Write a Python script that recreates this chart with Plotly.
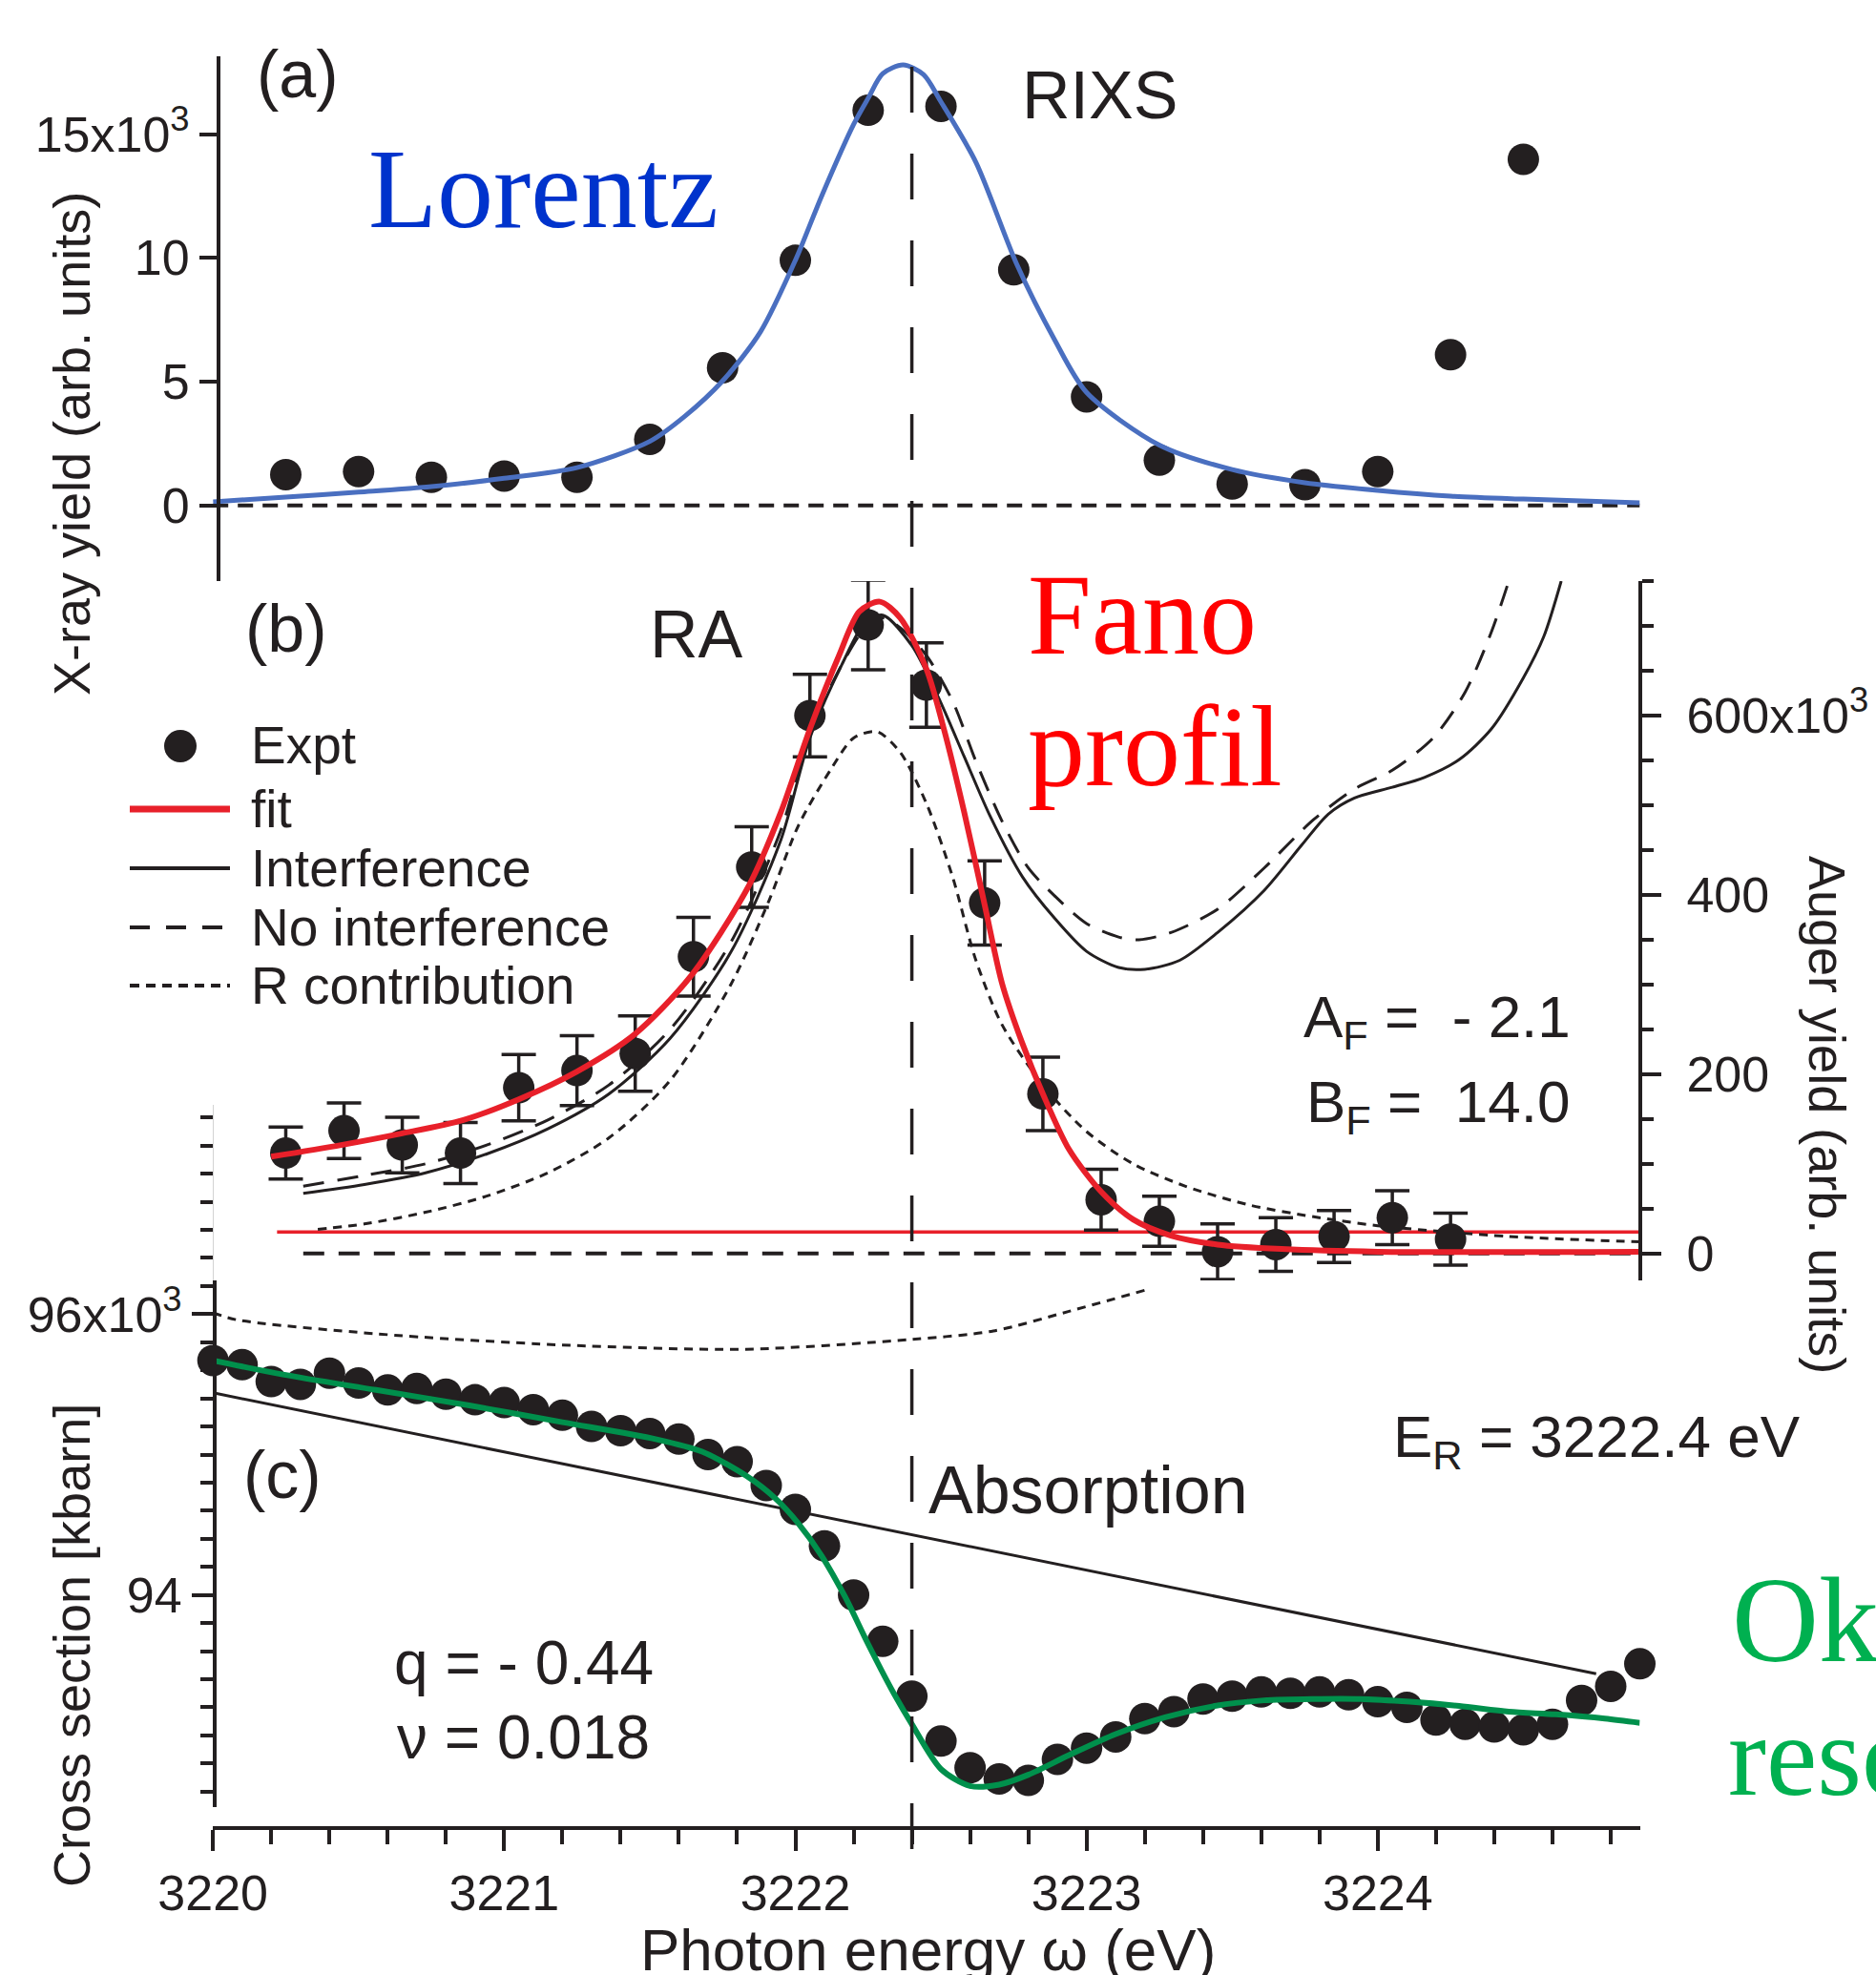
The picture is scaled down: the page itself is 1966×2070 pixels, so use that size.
import plotly.graph_objects as go

W, H = 1966, 2070
SANS = "Liberation Sans, Arial, sans-serif"
SERIF = "Liberation Serif, Times New Roman, serif"
INK = "#231f20"

def px(x):
    return x / W

def py(y):
    return 1 - y / H

E_R = 3222.4

# ---------------- panel (a): RIXS ----------------
a_expt_x = [3220.25, 3220.5, 3220.75, 3221.0, 3221.25, 3221.5, 3221.75, 3222.0, 3222.25,
            3222.5, 3222.75, 3223.0, 3223.25, 3223.5, 3223.75, 3224.0, 3224.25, 3224.5]
a_expt_y = [1.25, 1.37, 1.14, 1.19, 1.14, 2.67, 5.56, 9.90, 15.96,
            16.12, 9.52, 4.39, 1.83, 0.87, 0.84, 1.37, 6.09, 13.98]
a_fit_x = [3220.0, 3220.25, 3220.5, 3220.75, 3221.0, 3221.25, 3221.5, 3221.62, 3221.75, 3221.88,
           3222.0, 3222.09, 3222.2, 3222.25, 3222.3, 3222.37, 3222.44, 3222.5, 3222.62, 3222.76,
           3222.89, 3223.0, 3223.25, 3223.5, 3223.75, 3224.0, 3224.25, 3224.5, 3224.9]
a_fit_y = [0.15, 0.34, 0.54, 0.76, 1.10, 1.53, 2.59, 3.6, 5.03, 7.01,
           9.90, 12.49, 15.39, 16.45, 17.44, 17.79, 17.4, 16.30, 13.86, 9.75,
           6.70, 4.57, 2.44, 1.45, 0.92, 0.61, 0.38, 0.26, 0.11]
a_zero_x = [3220.0, 3224.9]
a_zero_y = [0, 0]

# ---------------- panel (b): RA (Auger yield, x10^3) ----------------
b_expt_x = [3220.25, 3220.45, 3220.65, 3220.85, 3221.05, 3221.25, 3221.45, 3221.65, 3221.85, 3222.05,
            3222.25, 3222.45, 3222.65, 3222.85, 3223.05, 3223.25, 3223.45, 3223.65, 3223.85, 3224.05,
            3224.25]
b_expt_y = [112, 137, 121, 112, 185, 204, 223, 331, 431, 600,
            701, 634, 391, 178, 60, 36, 2, 10, 19, 40, 16]
b_expt_err = [29, 31, 31, 34, 37, 39, 42, 44, 45, 46,
              50, 47, 47, 41, 34, 28, 31, 30, 29, 30, 29]

b_fit_x = [3220.2, 3220.44, 3220.65, 3220.86, 3221.05, 3221.25, 3221.45, 3221.64, 3221.84, 3221.95,
           3222.05, 3222.15, 3222.22, 3222.29, 3222.36, 3222.45, 3222.51, 3222.58, 3222.65, 3222.71,
           3222.78, 3222.85, 3222.94, 3223.05, 3223.16, 3223.29, 3223.45, 3223.67, 3224.0, 3224.9]
b_fit_y = [108, 121, 134, 149, 172, 203, 245, 309, 410, 492,
           585, 667, 716, 727, 709, 652, 585, 492, 389, 301,
           234, 178, 116, 69, 38, 20, 10, 5, 2, 2]

b_int_x = [3220.31, 3220.52, 3220.73, 3220.94, 3221.15, 3221.36, 3221.57, 3221.78, 3221.95, 3222.05,
           3222.16, 3222.24, 3222.3, 3222.4, 3222.49, 3222.58, 3222.67, 3222.78, 3222.89, 3223.0,
           3223.11, 3223.2, 3223.32, 3223.45, 3223.61, 3223.74, 3223.83, 3223.92, 3224.05, 3224.16,
           3224.28, 3224.39, 3224.5, 3224.57, 3224.63]
b_int_y = [67, 77, 90, 111, 139, 178, 240, 337, 461, 575,
           657, 704, 712, 678, 621, 554, 487, 420, 374, 337,
           319, 317, 327, 358, 405, 456, 490, 508, 520, 531,
           551, 585, 642, 688, 750]

b_noint_x = [3220.31, 3220.52, 3220.73, 3220.94, 3221.15, 3221.36, 3221.57, 3221.78, 3221.95, 3222.05,
             3222.16, 3222.24, 3222.3, 3222.36, 3222.45, 3222.54, 3222.62, 3222.71, 3222.8, 3222.89,
             3223.0, 3223.11, 3223.18, 3223.29, 3223.45, 3223.61, 3223.78, 3223.92, 3224.05, 3224.19,
             3224.3, 3224.39, 3224.45]
b_noint_y = [75, 87, 100, 121, 149, 188, 250, 348, 472, 580,
             657, 698, 709, 698, 667, 616, 549, 482, 430, 399,
             368, 353, 350, 358, 384, 430, 484, 518, 539, 575,
             626, 693, 750]

b_r_x = [3220.36, 3220.52, 3220.73, 3220.94, 3221.15, 3221.36, 3221.57, 3221.78, 3221.91, 3222.01,
         3222.12, 3222.2, 3222.28, 3222.36, 3222.45, 3222.54, 3222.62, 3222.71, 3222.85, 3223.0,
         3223.16, 3223.34, 3223.56, 3223.78, 3224.0, 3224.45, 3224.9]
b_r_y = [27, 33, 46, 64, 90, 129, 193, 301, 394, 477,
         539, 575, 582, 559, 502, 420, 327, 255, 188, 136,
         100, 75, 54, 41, 31, 19, 13]

b_base_x = [3220.22, 3224.9]
b_base_y = [24, 24]
b_zero_x = [3220.31, 3224.9]
b_zero_y = [0, 0]

# ---------------- panel (c): Absorption (kbarn, x10^3) ----------------
c_expt_x = [3220.0, 3220.1, 3220.2, 3220.3, 3220.4, 3220.5, 3220.6, 3220.7, 3220.8, 3220.9,
            3221.0, 3221.1, 3221.2, 3221.3, 3221.4, 3221.5, 3221.6, 3221.7, 3221.8, 3221.9,
            3222.0, 3222.1, 3222.2, 3222.3, 3222.4, 3222.5, 3222.6, 3222.7, 3222.8, 3222.9,
            3223.0, 3223.1, 3223.2, 3223.3, 3223.4, 3223.5, 3223.6, 3223.7, 3223.8, 3223.9,
            3224.0, 3224.1, 3224.2, 3224.3, 3224.4, 3224.5, 3224.6, 3224.7, 3224.8, 3224.9]
c_expt_y = [95.67, 95.64, 95.52, 95.50, 95.58, 95.51, 95.46, 95.47, 95.43, 95.39,
            95.37, 95.32, 95.28, 95.20, 95.17, 95.15, 95.11, 95.00, 94.95, 94.78,
            94.61, 94.35, 94.00, 93.67, 93.28, 92.96, 92.77, 92.69, 92.68, 92.83,
            92.91, 92.99, 93.12, 93.17, 93.26, 93.28, 93.31, 93.30, 93.31, 93.29,
            93.24, 93.20, 93.11, 93.08, 93.06, 93.04, 93.08, 93.25, 93.35, 93.51]

c_fit_x = [3220.0, 3220.24, 3220.56, 3220.88, 3221.2, 3221.52, 3221.68, 3221.83, 3221.93, 3222.01,
           3222.09, 3222.17, 3222.25, 3222.33, 3222.4, 3222.5, 3222.6, 3222.7, 3222.8, 3222.94,
           3223.1, 3223.27, 3223.44, 3223.61, 3223.78, 3223.94, 3224.11, 3224.28, 3224.45, 3224.61,
           3224.78, 3224.9]
c_fit_y = [95.67, 95.57, 95.46, 95.35, 95.23, 95.11, 95.02, 94.85, 94.69, 94.51,
           94.28, 93.99, 93.65, 93.33, 93.08, 92.76, 92.64, 92.65, 92.72, 92.86,
           93.01, 93.13, 93.21, 93.25, 93.26, 93.26, 93.24, 93.21, 93.17, 93.15,
           93.12, 93.09]

c_bg_x = [3220.0, 3224.75]
c_bg_y = [95.44, 93.44]

c_dot_x = [3220.0, 3220.08, 3220.56, 3221.2, 3221.83, 3222.4, 3222.68, 3222.94, 3223.2]
c_dot_y = [96.01, 95.96, 95.86, 95.78, 95.75, 95.82, 95.88, 96.02, 96.17]

# ---------------- figure ----------------
fig = go.Figure()

def line(x, y, yaxis, color, width, dash="solid", spline=True):
    fig.add_trace(go.Scatter(
        x=x, y=y, mode="lines", xaxis="x", yaxis=yaxis, showlegend=False, hoverinfo="skip",
        line=dict(color=color, width=width, dash=dash,
                  shape="spline" if spline else "linear", smoothing=0.8)))

def dots(x, y, yaxis, err=None):
    kw = {}
    if err is not None:
        kw["error_y"] = dict(type="data", array=err, visible=True, color=INK, thickness=3.5, width=18)
    fig.add_trace(go.Scatter(
        x=x, y=y, mode="markers", xaxis="x", yaxis=yaxis, showlegend=False, cliponaxis=False,
        marker=dict(size=33, color=INK, line=dict(width=0)), **kw))

# (a)
line(a_zero_x, a_zero_y, "y3", INK, 4, "16px,10px", spline=False)
dots(a_expt_x, a_expt_y, "y3")
line(a_fit_x, a_fit_y, "y3", "#4a6fc0", 5)

# (b)
line(b_base_x, b_base_y, "y2", "#e8202a", 3.5, spline=False)
line(b_zero_x, b_zero_y, "y2", INK, 4, "22px,15px", spline=False)
line(b_r_x, b_r_y, "y2", INK, 3, "9px,7px")
line(b_noint_x, b_noint_y, "y2", INK, 3, "22px,14px")
line(b_int_x, b_int_y, "y2", INK, 3)
dots(b_expt_x, b_expt_y, "y2", b_expt_err)
line(b_fit_x, b_fit_y, "y2", "#e8202a", 6)

# (c)
line(c_dot_x, c_dot_y, "y", INK, 3, "9px,7px")
line(c_bg_x, c_bg_y, "y", INK, 3, spline=False)
dots(c_expt_x, c_expt_y, "y")
line(c_fit_x, c_fit_y, "y", "#00904c", 6)

axis_common = dict(showline=True, linewidth=4, linecolor=INK, ticks="outside", tickwidth=4,
                   tickcolor=INK, showgrid=False, zeroline=False, automargin=False,
                   tickfont=dict(family=SANS, size=52, color=INK))

fig.update_layout(
    width=W, height=H, margin=dict(l=0, r=0, t=0, b=0, pad=0, autoexpand=False),
    autosize=False,
    paper_bgcolor="white", plot_bgcolor="white", showlegend=False,
    font=dict(family=SANS, color=INK),
    xaxis=dict(domain=[px(223.2), px(1718.5)], range=[3220, 3224.9], anchor="free",
               position=py(1916), tick0=3220, dtick=1, ticklen=22,
               minor=dict(dtick=0.2, ticklen=15, tickwidth=4, tickcolor=INK, ticks="outside"),
               **axis_common),
    yaxis=dict(domain=[py(1894), py(1158)], range=[92.49, 97.49], anchor="free",
               position=px(225), side="left", tick0=94, dtick=2, ticklen=22,
               labelalias={"96": "96x10<sup>3</sup>"},
               minor=dict(dtick=0.2, ticklen=13, tickwidth=4, tickcolor=INK, ticks="outside"),
               **axis_common),
    yaxis2=dict(domain=[py(1342), py(609)], range=[-30, 750], anchor="free",
                position=px(1719), side="right", tick0=0, dtick=200, ticklen=20,
                ticklabelstandoff=16,
                labelalias={"600": "600x10<sup>3</sup>"},
                minor=dict(dtick=50, ticklen=12, tickwidth=4, tickcolor=INK, ticks="outside"),
                **axis_common),
    yaxis3=dict(domain=[py(609), py(59)], range=[-3.05, 18.14], anchor="free",
                position=px(229), side="left", tick0=0, dtick=5, ticklen=18,
                labelalias={"15": "15x10<sup>3</sup>"},
                **axis_common),
)

# vertical resonance line
fig.add_shape(type="line", xref="x", yref="paper", x0=E_R, x1=E_R, y0=py(1938), y1=py(51),
              line=dict(color=INK, width=3.5, dash="48px,43px"))

# manual legend for panel (b)
fig.add_shape(type="circle", xref="paper", yref="paper", x0=px(172), x1=px(206),
              y0=py(799), y1=py(765), fillcolor=INK, line=dict(width=0))
legend_lines = [
    (848, "#e8202a", 7, "solid"),
    (910, INK, 4, "solid"),
    (972, INK, 4, "21px,17px"),
    (1033, INK, 4, "10px,7px"),
]
for yy, col, wd, ds in legend_lines:
    fig.add_shape(type="line", xref="paper", yref="paper", x0=px(136), x1=px(241),
                  y0=py(yy), y1=py(yy), line=dict(color=col, width=wd, dash=ds))

def ann(text, x, y, size, xanchor="center", family=SANS, color=INK, angle=0):
    fig.add_annotation(text=text, xref="paper", yref="paper", x=px(x), y=py(y),
                       xanchor=xanchor, yanchor="middle", showarrow=False, textangle=angle,
                       font=dict(family=family, size=size, color=color))

legend_texts = [("Expt", 781), ("fit", 848), ("Interference", 910),
                ("No interference", 972), ("R contribution", 1033)]
for t, yy in legend_texts:
    ann(t, 261, yy, 55, xanchor="left")

ann("(a)", 312, 78, 70)
ann("RIXS", 1152, 100, 70)
ann("(b)", 300, 659, 70)
ann("RA", 730, 665, 70)
ann("(c)", 296, 1546, 70)
ann("Absorption", 971, 1562, 70, xanchor="left")
ann("E<sub>R</sub> = 3222.4 eV", 1458, 1510, 62, xanchor="left")
ann("A<sub>F</sub> =\u00a0 - 2.1", 1364, 1070, 62, xanchor="left")
ann("B<sub>F</sub> =\u00a0 14.0", 1367, 1159, 62, xanchor="left")
ann("q = - 0.44", 411, 1743, 64, xanchor="left")
ann("\u03bd = 0.018", 414, 1821, 64, xanchor="left")

ann("X-ray yield (arb. units)", 75, 465, 54, angle=-90)
ann("Cross section [kbarn]", 75, 1725, 54, angle=-90)
ann("Auger yield (arb. units)", 1915, 1168, 54, angle=90)
ann("Photon energy \u03c9 (eV)", 972, 2043, 62)

ann("Lorentz", 384, 198, 118, xanchor="left", family=SERIF, color="#0033cc")
ann("Fano", 1075, 644, 120, xanchor="left", family=SERIF, color="#ff0000")
ann("profil", 1075, 782, 120, xanchor="left", family=SERIF, color="#ff0000")
ann("Ok", 1813, 1698, 126, xanchor="left", family=SERIF, color="#00b050")
ann("reso", 1809, 1840, 120, xanchor="left", family=SERIF, color="#00b050")

fig.write_html(
    "out.html",
    config={"displayModeBar": False},
    post_script="document.body.style.margin='0';document.body.style.overflow='hidden';",
)
